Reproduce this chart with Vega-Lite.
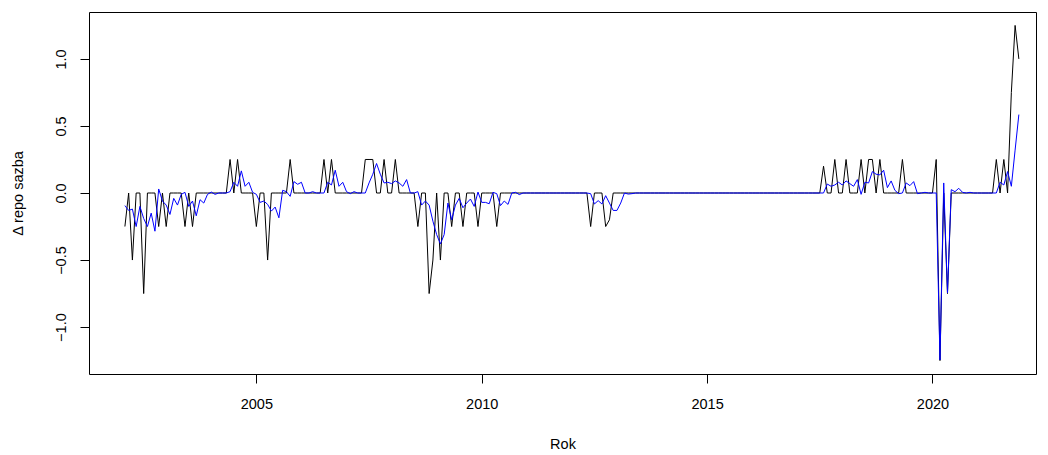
{
  "$schema": "https://vega.github.io/schema/vega-lite/v6.json",
  "width": 947,
  "height": 362,
  "autosize": {"type": "none"},
  "padding": {"left": 89, "top": 12, "right": 12, "bottom": 81},
  "background": "white",
  "config": {"view": {"stroke": "black", "strokeWidth": 1}, "font": "Liberation Sans"},
  "data": {"values": [
    {"t":2002.0833,"a":-0.25,"f":-0.094},{"t":2002.1667,"a":0,"f":-0.13},{"t":2002.25,"a":-0.5,"f":-0.12},{"t":2002.3333,"a":0,"f":-0.25},
    {"t":2002.4167,"a":0,"f":-0.10},{"t":2002.5,"a":-0.75,"f":-0.19},{"t":2002.5833,"a":0,"f":-0.25},{"t":2002.6667,"a":0,"f":-0.15},
    {"t":2002.75,"a":0,"f":-0.285},{"t":2002.8333,"a":-0.25,"f":0.03},{"t":2002.9167,"a":0,"f":-0.06},{"t":2003,"a":-0.25,"f":-0.09},
    {"t":2003.0833,"a":0,"f":-0.16},{"t":2003.1667,"a":0,"f":-0.04},{"t":2003.25,"a":0,"f":-0.09},{"t":2003.3333,"a":0,"f":-0.01},
    {"t":2003.4167,"a":-0.25,"f":0.005},{"t":2003.5,"a":0,"f":-0.10},{"t":2003.5833,"a":-0.25,"f":-0.06},{"t":2003.6667,"a":0,"f":-0.17},
    {"t":2003.75,"a":0,"f":-0.05},{"t":2003.8333,"a":0,"f":-0.075},{"t":2003.9167,"a":0,"f":-0.01},{"t":2004,"a":0,"f":0.007},
    {"t":2004.0833,"a":0,"f":-0.01},{"t":2004.1667,"a":0,"f":0},{"t":2004.25,"a":0,"f":0},{"t":2004.3333,"a":0,"f":0},
    {"t":2004.4167,"a":0.25,"f":0.01},{"t":2004.5,"a":0,"f":0.08},{"t":2004.5833,"a":0.25,"f":0.05},{"t":2004.6667,"a":0,"f":0.165},
    {"t":2004.75,"a":0,"f":0.05},{"t":2004.8333,"a":0,"f":0.08},{"t":2004.9167,"a":0,"f":0.005},{"t":2005,"a":-0.25,"f":-0.01},
    {"t":2005.0833,"a":0,"f":-0.07},{"t":2005.1667,"a":0,"f":-0.06},{"t":2005.25,"a":-0.5,"f":-0.085},{"t":2005.3333,"a":0,"f":-0.135},
    {"t":2005.4167,"a":0,"f":-0.105},{"t":2005.5,"a":0,"f":-0.185},{"t":2005.5833,"a":0,"f":0.02},{"t":2005.6667,"a":0,"f":0.01},
    {"t":2005.75,"a":0.25,"f":-0.025},{"t":2005.8333,"a":0,"f":0.085},{"t":2005.9167,"a":0,"f":0.065},{"t":2006,"a":0,"f":0.08},
    {"t":2006.0833,"a":0,"f":0},{"t":2006.1667,"a":0,"f":0},{"t":2006.25,"a":0,"f":0.01},{"t":2006.3333,"a":0,"f":0},
    {"t":2006.4167,"a":0,"f":0},{"t":2006.5,"a":0.25,"f":0},{"t":2006.5833,"a":0,"f":0.08},{"t":2006.6667,"a":0.25,"f":0.06},
    {"t":2006.75,"a":0,"f":0.17},{"t":2006.8333,"a":0,"f":0.05},{"t":2006.9167,"a":0,"f":0.08},{"t":2007,"a":0,"f":0.01},
    {"t":2007.0833,"a":0,"f":-0.005},{"t":2007.1667,"a":0,"f":0.01},{"t":2007.25,"a":0,"f":0},{"t":2007.3333,"a":0,"f":0},
    {"t":2007.4167,"a":0.25,"f":0},{"t":2007.5,"a":0.25,"f":0.075},{"t":2007.5833,"a":0.25,"f":0.14},{"t":2007.6667,"a":0,"f":0.22},
    {"t":2007.75,"a":0,"f":0.14},{"t":2007.8333,"a":0.25,"f":0.075},{"t":2007.9167,"a":0,"f":0.08},{"t":2008,"a":0,"f":0.07},
    {"t":2008.0833,"a":0.25,"f":0.09},{"t":2008.1667,"a":0,"f":0.075},{"t":2008.25,"a":0,"f":0.05},{"t":2008.3333,"a":0,"f":0.1},
    {"t":2008.4167,"a":0,"f":0},{"t":2008.5,"a":0,"f":0},{"t":2008.5833,"a":-0.25,"f":0.01},{"t":2008.6667,"a":0,"f":-0.09},
    {"t":2008.75,"a":0,"f":-0.06},{"t":2008.8333,"a":-0.75,"f":-0.09},{"t":2008.9167,"a":-0.5,"f":-0.21},{"t":2009,"a":0,"f":-0.31},
    {"t":2009.0833,"a":-0.5,"f":-0.38},{"t":2009.1667,"a":0,"f":-0.31},{"t":2009.25,"a":0,"f":-0.075},{"t":2009.3333,"a":-0.25,"f":-0.2},
    {"t":2009.4167,"a":0,"f":-0.09},{"t":2009.5,"a":0,"f":-0.04},{"t":2009.5833,"a":-0.25,"f":-0.11},{"t":2009.6667,"a":0,"f":-0.075},
    {"t":2009.75,"a":0,"f":-0.045},{"t":2009.8333,"a":0,"f":-0.1},{"t":2009.9167,"a":-0.25,"f":0.007},{"t":2010,"a":0,"f":-0.07},
    {"t":2010.0833,"a":0,"f":-0.07},{"t":2010.1667,"a":0,"f":-0.08},{"t":2010.25,"a":0,"f":0.005},{"t":2010.3333,"a":-0.25,"f":-0.005},
    {"t":2010.4167,"a":0,"f":-0.094},{"t":2010.5,"a":0,"f":-0.06},{"t":2010.5833,"a":0,"f":-0.085},{"t":2010.6667,"a":0,"f":0},
    {"t":2010.75,"a":0,"f":0.005},{"t":2010.8333,"a":0,"f":-0.012},{"t":2010.9167,"a":0,"f":0},{"t":2011,"a":0,"f":0},
    {"t":2011.0833,"a":0,"f":0},{"t":2011.1667,"a":0,"f":0},{"t":2011.25,"a":0,"f":0},{"t":2011.3333,"a":0,"f":0},
    {"t":2011.4167,"a":0,"f":0},{"t":2011.5,"a":0,"f":0},{"t":2011.5833,"a":0,"f":0},{"t":2011.6667,"a":0,"f":0},
    {"t":2011.75,"a":0,"f":0},{"t":2011.8333,"a":0,"f":0},{"t":2011.9167,"a":0,"f":0},{"t":2012,"a":0,"f":0},
    {"t":2012.0833,"a":0,"f":0},{"t":2012.1667,"a":0,"f":0},{"t":2012.25,"a":0,"f":0},{"t":2012.3333,"a":0,"f":0},
    {"t":2012.4167,"a":-0.25,"f":-0.005},{"t":2012.5,"a":0,"f":-0.082},{"t":2012.5833,"a":0,"f":-0.057},{"t":2012.6667,"a":0,"f":-0.082},
    {"t":2012.75,"a":-0.25,"f":-0.02},{"t":2012.8333,"a":-0.2,"f":-0.075},{"t":2012.9167,"a":0,"f":-0.13},{"t":2013,"a":0,"f":-0.13},
    {"t":2013.0833,"a":0,"f":-0.075},{"t":2013.1667,"a":0,"f":0},{"t":2013.25,"a":0,"f":-0.008},{"t":2013.3333,"a":0,"f":-0.005},
    {"t":2013.4167,"a":0,"f":0},{"t":2013.5,"a":0,"f":0},{"t":2013.5833,"a":0,"f":0},{"t":2013.6667,"a":0,"f":0},
    {"t":2013.75,"a":0,"f":0},{"t":2013.8333,"a":0,"f":0},{"t":2013.9167,"a":0,"f":0},{"t":2014,"a":0,"f":0},
    {"t":2014.0833,"a":0,"f":0},{"t":2014.1667,"a":0,"f":0},{"t":2014.25,"a":0,"f":0},{"t":2014.3333,"a":0,"f":0},
    {"t":2014.4167,"a":0,"f":0},{"t":2014.5,"a":0,"f":0},{"t":2014.5833,"a":0,"f":0},{"t":2014.6667,"a":0,"f":0},
    {"t":2014.75,"a":0,"f":0},{"t":2014.8333,"a":0,"f":0},{"t":2014.9167,"a":0,"f":0},{"t":2015,"a":0,"f":0},
    {"t":2015.0833,"a":0,"f":0},{"t":2015.1667,"a":0,"f":0},{"t":2015.25,"a":0,"f":0},{"t":2015.3333,"a":0,"f":0},
    {"t":2015.4167,"a":0,"f":0},{"t":2015.5,"a":0,"f":0},{"t":2015.5833,"a":0,"f":0},{"t":2015.6667,"a":0,"f":0},
    {"t":2015.75,"a":0,"f":0},{"t":2015.8333,"a":0,"f":0},{"t":2015.9167,"a":0,"f":0},{"t":2016,"a":0,"f":0},
    {"t":2016.0833,"a":0,"f":0},{"t":2016.1667,"a":0,"f":0},{"t":2016.25,"a":0,"f":0},{"t":2016.3333,"a":0,"f":0},
    {"t":2016.4167,"a":0,"f":0},{"t":2016.5,"a":0,"f":0},{"t":2016.5833,"a":0,"f":0},{"t":2016.6667,"a":0,"f":0},
    {"t":2016.75,"a":0,"f":0},{"t":2016.8333,"a":0,"f":0},{"t":2016.9167,"a":0,"f":0},{"t":2017,"a":0,"f":0},
    {"t":2017.0833,"a":0,"f":0},{"t":2017.1667,"a":0,"f":0},{"t":2017.25,"a":0,"f":0},{"t":2017.3333,"a":0,"f":0},
    {"t":2017.4167,"a":0,"f":0},{"t":2017.5,"a":0,"f":0},{"t":2017.5833,"a":0.2,"f":0},{"t":2017.6667,"a":0,"f":0.067},
    {"t":2017.75,"a":0,"f":0.05},{"t":2017.8333,"a":0.25,"f":0.06},{"t":2017.9167,"a":0,"f":0.08},{"t":2018,"a":0,"f":0.06},
    {"t":2018.0833,"a":0.25,"f":0.09},{"t":2018.1667,"a":0,"f":0.07},{"t":2018.25,"a":0,"f":0.05},{"t":2018.3333,"a":0,"f":0.1},
    {"t":2018.4167,"a":0.25,"f":-0.01},{"t":2018.5,"a":0,"f":0.08},{"t":2018.5833,"a":0.25,"f":0.075},{"t":2018.6667,"a":0.25,"f":0.16},
    {"t":2018.75,"a":0,"f":0.14},{"t":2018.8333,"a":0.25,"f":0.135},{"t":2018.9167,"a":0,"f":0.17},{"t":2019,"a":0,"f":0.04},
    {"t":2019.0833,"a":0,"f":0.09},{"t":2019.1667,"a":0,"f":0.02},{"t":2019.25,"a":0,"f":-0.005},{"t":2019.3333,"a":0.25,"f":0},
    {"t":2019.4167,"a":0,"f":0.075},{"t":2019.5,"a":0,"f":0.055},{"t":2019.5833,"a":0,"f":0.085},{"t":2019.6667,"a":0,"f":-0.005},
    {"t":2019.75,"a":0,"f":0},{"t":2019.8333,"a":0,"f":0.005},{"t":2019.9167,"a":0,"f":0},{"t":2020,"a":0,"f":0},
    {"t":2020.0833,"a":0.25,"f":0},{"t":2020.1667,"a":-1.25,"f":-1.245},{"t":2020.25,"a":0,"f":0.075},{"t":2020.3333,"a":-0.75,"f":-0.745},
    {"t":2020.4167,"a":0,"f":0.025},{"t":2020.5,"a":0,"f":0.01},{"t":2020.5833,"a":0,"f":0.035},{"t":2020.6667,"a":0,"f":0.005},
    {"t":2020.75,"a":0,"f":0},{"t":2020.8333,"a":0,"f":0.005},{"t":2020.9167,"a":0,"f":0},{"t":2021,"a":0,"f":0},
    {"t":2021.0833,"a":0,"f":0},{"t":2021.1667,"a":0,"f":0},{"t":2021.25,"a":0,"f":0},{"t":2021.3333,"a":0,"f":0},
    {"t":2021.4167,"a":0.25,"f":0},{"t":2021.5,"a":0,"f":0.08},{"t":2021.5833,"a":0.25,"f":0.06},{"t":2021.6667,"a":0,"f":0.16},
    {"t":2021.75,"a":0.75,"f":0.05},{"t":2021.8333,"a":1.25,"f":0.32},{"t":2021.9167,"a":1.0,"f":0.585}
  ]},
  "encoding": {
    "x": {
      "field": "t", "type": "quantitative",
      "scale": {"domain": [2001.287, 2022.297], "nice": false, "zero": false},
      "axis": {
        "values": [2005, 2010, 2015, 2020], "format": "d", "title": "Rok",
        "grid": false, "domain": false, "tickSize": 9, "tickColor": "black", "tickWidth": 1,
        "labelFont": "Liberation Sans", "labelFontSize": 14.5, "labelColor": "black",
        "labelBaseline": "middle", "labelPadding": 21, "labelFlush": false, "labelOverlap": false,
        "titleFont": "Liberation Sans", "titleFontSize": 14.5, "titleFontWeight": "normal", "titleColor": "black",
        "titleBaseline": "middle", "titleY": 70
      }
    },
    "y": {
      "field": "a", "type": "quantitative",
      "scale": {"domain": [-1.35, 1.35], "nice": false, "zero": false},
      "axis": {
        "values": [-1, -0.5, 0, 0.5, 1], "format": ".1f", "title": "Δ repo sazba",
        "grid": false, "domain": false, "tickSize": 9, "tickColor": "black", "tickWidth": 1,
        "labelFont": "Liberation Sans", "labelFontSize": 14.5, "labelColor": "black",
        "labelAngle": -90, "labelAlign": "center", "labelBaseline": "middle", "labelPadding": 18.5,
        "labelFlush": false, "labelOverlap": false,
        "titleFont": "Liberation Sans", "titleFontSize": 14.5, "titleFontWeight": "normal", "titleColor": "black",
        "titleAngle": -90, "titleBaseline": "middle", "titleX": -71
      }
    }
  },
  "layer": [
    {"mark": {"type": "line", "color": "black", "strokeWidth": 1}},
    {"mark": {"type": "line", "color": "#0000ff", "strokeWidth": 1}, "encoding": {"y": {"field": "f", "type": "quantitative"}}}
  ]
}
